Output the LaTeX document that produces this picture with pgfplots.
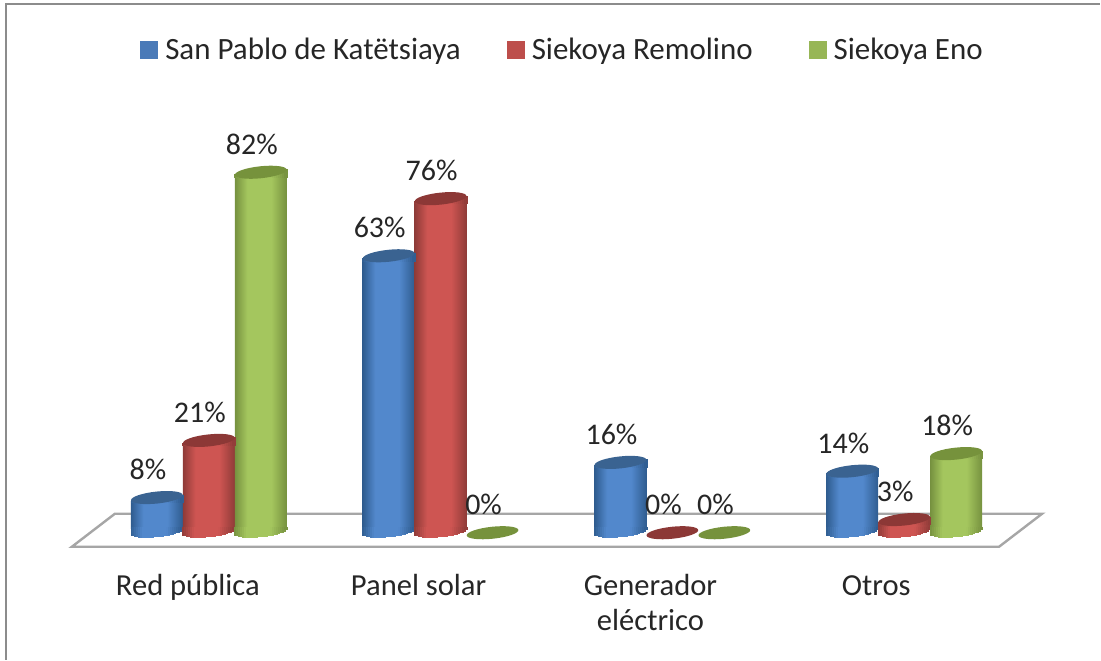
\documentclass[border=0pt]{standalone}
\usepackage{pgfplots}
\usepackage{pgfplotstable}
\usepackage{fontspec}
\setmainfont{Carlito}
\pgfplotsset{compat=1.18}
\definecolor{bD}{HTML}{2F5C8F}\definecolor{bM}{HTML}{5288CC}\definecolor{bC}{HTML}{3A6391}
\definecolor{rD}{HTML}{8F3B38}\definecolor{rM}{HTML}{CE5552}\definecolor{rC}{HTML}{8C3836}
\definecolor{gD}{HTML}{76913F}\definecolor{gM}{HTML}{A4C65E}\definecolor{gC}{HTML}{76923C}
\definecolor{txt}{HTML}{262626}
\newcommand\capellipse{\pgfpathellipse{\pgfpointorigin}{\pgfpoint{12.93pt}{1.36pt}}{\pgfpoint{-0.31pt}{2.98pt}}}
% strips that close a cylinder at the foot (#3=1) or under the tilted cap (#3=0)
\newcommand\strips[3]{%
 \foreach \i in {0,...,25}{%
  \pgfmathsetmacro\xa{-13+\i}%
  \pgfmathsetmacro\xm{\xa+0.5}%
  \pgfmathsetmacro\t{(\xm+13)/26}%
  \pgfmathsetmacro\pct{\t<0.24 ? \t/0.24*100 : (\t>0.7 ? (1-\t)/0.3*100 : 100)}%
  \pgfmathsetmacro\lo{#3==1 ? 1+0.105*\xm-2.95*sqrt(max(0,1-(\xm/13)^2)) : -2.6}%
  \pgfmathsetmacro\hi{#3==1 ? 2.6 : 0.105*\xm}%
  \pgfmathsetmacro\xb{\xa+1.25}%
  \fill[#2!\pct!#1] (\xa pt,\lo pt) rectangle (\xb pt,\hi pt);%
 }%
}
\newcommand\defmarks[4]{%
 \pgfdeclarehorizontalshading{#1sh}{100bp}{color(0bp)=(#2);color(25bp)=(#2);color(37bp)=(#3);color(60bp)=(#3);color(75bp)=(#2);color(100bp)=(#2)}%
 \pgfdeclareplotmark{#1skB}{\strips{#2}{#3}{1}}%
 \pgfdeclareplotmark{#1skT}{\strips{#2}{#3}{0}}%
 \pgfdeclareplotmark{#1cap}{\pgfsetfillcolor{#4}\capellipse\pgfusepathqfill}%
}
\defmarks{b}{bD}{bM}{bC}\defmarks{r}{rD}{rM}{rC}\defmarks{g}{gD}{gM}{gC}
\pgfplotstableread{
x v
-0.2241 8
0.7759 63
1.7759 16
2.7759 14
}\tblB
\pgfplotstableread{
x v
0 21
1 76
2 0
3 3
}\tblR
\pgfplotstableread{
x v
0.2241 82
1.2241 0
2.2241 0
3.2241 18
}\tblG
\newcommand\cylinders[2]{%
 \addplot[forget plot,only marks,mark=#1skB,restrict y to domain=-0.5:0.5] table[x=x,y expr={\thisrow{v}>0 ? 0 : -10}] {#2};
 \pgfplotsinvokeforeach{-0.4:0.4,0.6:1.4,1.6:2.4,2.6:3.4}{%
  \addplot[forget plot,ybar,bar width=26pt,bar shift=0pt,draw=none,shade,shading=#1sh,yshift=2.2pt,
    restrict y to domain=0.5:100,restrict x to domain=##1] table[x=x,y expr=\thisrow{v}-2] {#2};
 }
 \addplot[forget plot,only marks,mark=#1skT,restrict y to domain=0.5:100] table[x=x,y=v] {#2};
 \addplot[forget plot,only marks,mark=#1cap] table[x=x,y=v] {#2};
}
\newcommand\labels[1]{%
 \addplot[forget plot,only marks,mark=none,point meta=y,
   nodes near coords={\pgfmathprintnumber[assume math mode=true]{\pgfplotspointmeta}\%},
   nodes near coords style={anchor=base,xshift=-4.5pt,yshift=9pt,text=txt,font=\fontsize{15}{17.5}\selectfont,inner sep=0pt,outer sep=0pt}]
   table[x=x,y=v] {#1};
}
\begin{document}
\begin{tikzpicture}
\begin{axis}[
  at={(0pt,0pt)},anchor=south west,
  scale only axis,width=550.5pt,height=330pt,
  xmin=-0.9009,xmax=3.8448,ymin=-28.86,ymax=121.14,
  clip=false,
  axis line style={draw=none},
  major tick length=0pt,
  ytick=\empty,
  xtick={-0.0905,0.9052,1.9052,2.8793},
  xticklabels={\rule{0pt}{12pt}Red pública,\rule{0pt}{12pt}Panel solar,\rule{0pt}{12pt}Generador\\eléctrico,\rule{0pt}{12pt}Otros},
  xticklabel style={align=center,anchor=north,yshift=44.5pt,text=txt,font=\fontsize{15.3}{17.5}\selectfont,inner sep=0pt},
  legend columns=3,
  legend style={draw=none,fill=none,at={(axis cs:-0.2974,109.8)},anchor=west,
    font=\fontsize{15.5}{17.5}\selectfont,text=txt,inner sep=0pt,
    /tikz/every even column/.append style={column sep=21pt}},
]
\addlegendimage{legend image code/.code={\fill[bM!90!black] (0pt,-4.3pt) rectangle (8.6pt,4.3pt);\path (10.1pt,0pt);}}
\addlegendimage{legend image code/.code={\fill[rM!92!black] (0pt,-4.3pt) rectangle (8.6pt,4.3pt);\path (10.1pt,0pt);}}
\addlegendimage{legend image code/.code={\fill[gM!92!black] (0pt,-4.3pt) rectangle (8.6pt,4.3pt);\path (10.1pt,0pt);}}
\addlegendentry{San Pablo de Katëtsiaya}
\addlegendentry{Siekoya Remolino\rule{5pt}{0pt}}
\addlegendentry{Siekoya Eno}
% floor of the plot
\addplot[forget plot,draw={rgb,255:red,166;green,166;blue,166},line width=1.2pt,fill=white] coordinates {(-0.5905,-3.18) (-0.4052,4.32) (3.595,4.32) (3.4095,-3.18)} -- cycle;
\labels{\tblB}\labels{\tblR}\labels{\tblG}
\cylinders{b}{\tblB}
\cylinders{r}{\tblR}
\cylinders{g}{\tblG}
\end{axis}
\draw[line width=1pt,draw={rgb,255:red,140;green,140;blue,140}] (3pt,0pt)--(3pt,328pt)--(550.5pt,328pt);
\end{tikzpicture}
\end{document}
